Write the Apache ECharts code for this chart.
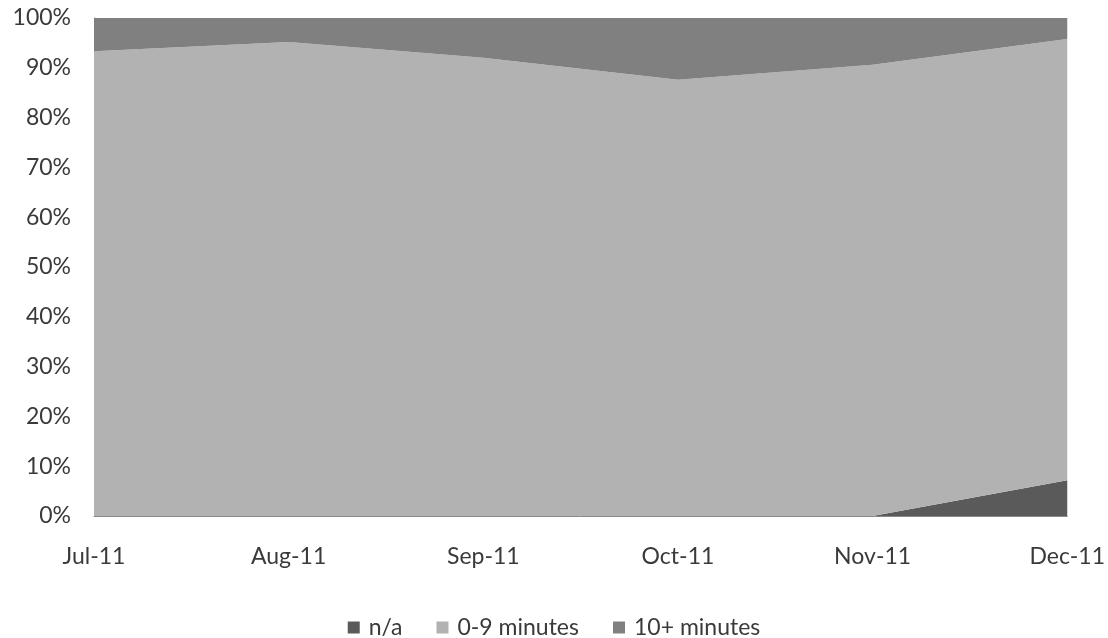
<!DOCTYPE html>
<html>
<head>
<meta charset="utf-8">
<script src="https://cdn.jsdelivr.net/npm/echarts@6/dist/echarts.min.js"></script>
<style>
  html, body { margin: 0; padding: 0; background: #ffffff; }
  #chart { width: 1108px; height: 638px; }
</style>
</head>
<body>
<div id="chart"></div>
<script>
// Monthly share of responses by time band (percent of total)
const months = ['Jul-11', 'Aug-11', 'Sep-11', 'Oct-11', 'Nov-11', 'Dec-11'];
const naShare = [0, 0, 0, 0, 0, 7.2];
const shortShare = [93.3, 95.2, 92.0, 87.6, 90.6, 88.6];
const longShare = [6.7, 4.8, 8.0, 12.4, 9.4, 4.2];
const yTicks = [0, 10, 20, 30, 40, 50, 60, 70, 80, 90, 100];

const fontFamily = 'Lato, "Open Sans", sans-serif';
const textColor = '#3a3a3a';

function areaSeries(name, data, color) {
  return {
    name: name,
    type: 'line',
    stack: 'total',
    data: data,
    symbol: 'none',
    lineStyle: { width: 0 },
    areaStyle: { color: color, opacity: 1 },
    itemStyle: { color: color }
  };
}

const chart = echarts.init(document.getElementById('chart'), null, { renderer: 'canvas' });
chart.setOption({
  animation: false,
  backgroundColor: '#ffffff',
  grid: { left: 94, right: 38, top: 18, bottom: 122, containLabel: false },
  xAxis: {
    type: 'category',
    data: months,
    boundaryGap: false,
    axisLine: { show: true, lineStyle: { color: '#8a8a8a', width: 1 } },
    axisTick: { show: false },
    axisLabel: { color: textColor, fontSize: 23, fontFamily: fontFamily, margin: 29 },
    splitLine: { show: false }
  },
  yAxis: {
    type: 'value',
    min: yTicks[0],
    max: yTicks[yTicks.length - 1],
    interval: 10,
    axisLine: { show: true, lineStyle: { color: '#8a8a8a', width: 1 } },
    axisTick: { show: false },
    splitLine: { show: false },
    axisLabel: { color: textColor, fontSize: 23, fontFamily: fontFamily, margin: 23, formatter: '{value}%' }
  },
  legend: {
    top: 611,
    left: 'center',
    itemWidth: 12,
    itemHeight: 12,
    itemGap: 34,
    icon: 'rect',
    textStyle: { color: textColor, fontSize: 23, fontFamily: fontFamily, padding: [0, 0, 0, 4] },
    data: ['n/a', '0-9 minutes', '10+ minutes']
  },
  series: [
    areaSeries('n/a', naShare, '#5a5a5a'),
    areaSeries('0-9 minutes', shortShare, '#b2b2b2'),
    areaSeries('10+ minutes', longShare, '#808080')
  ]
});
</script>
</body>
</html>
